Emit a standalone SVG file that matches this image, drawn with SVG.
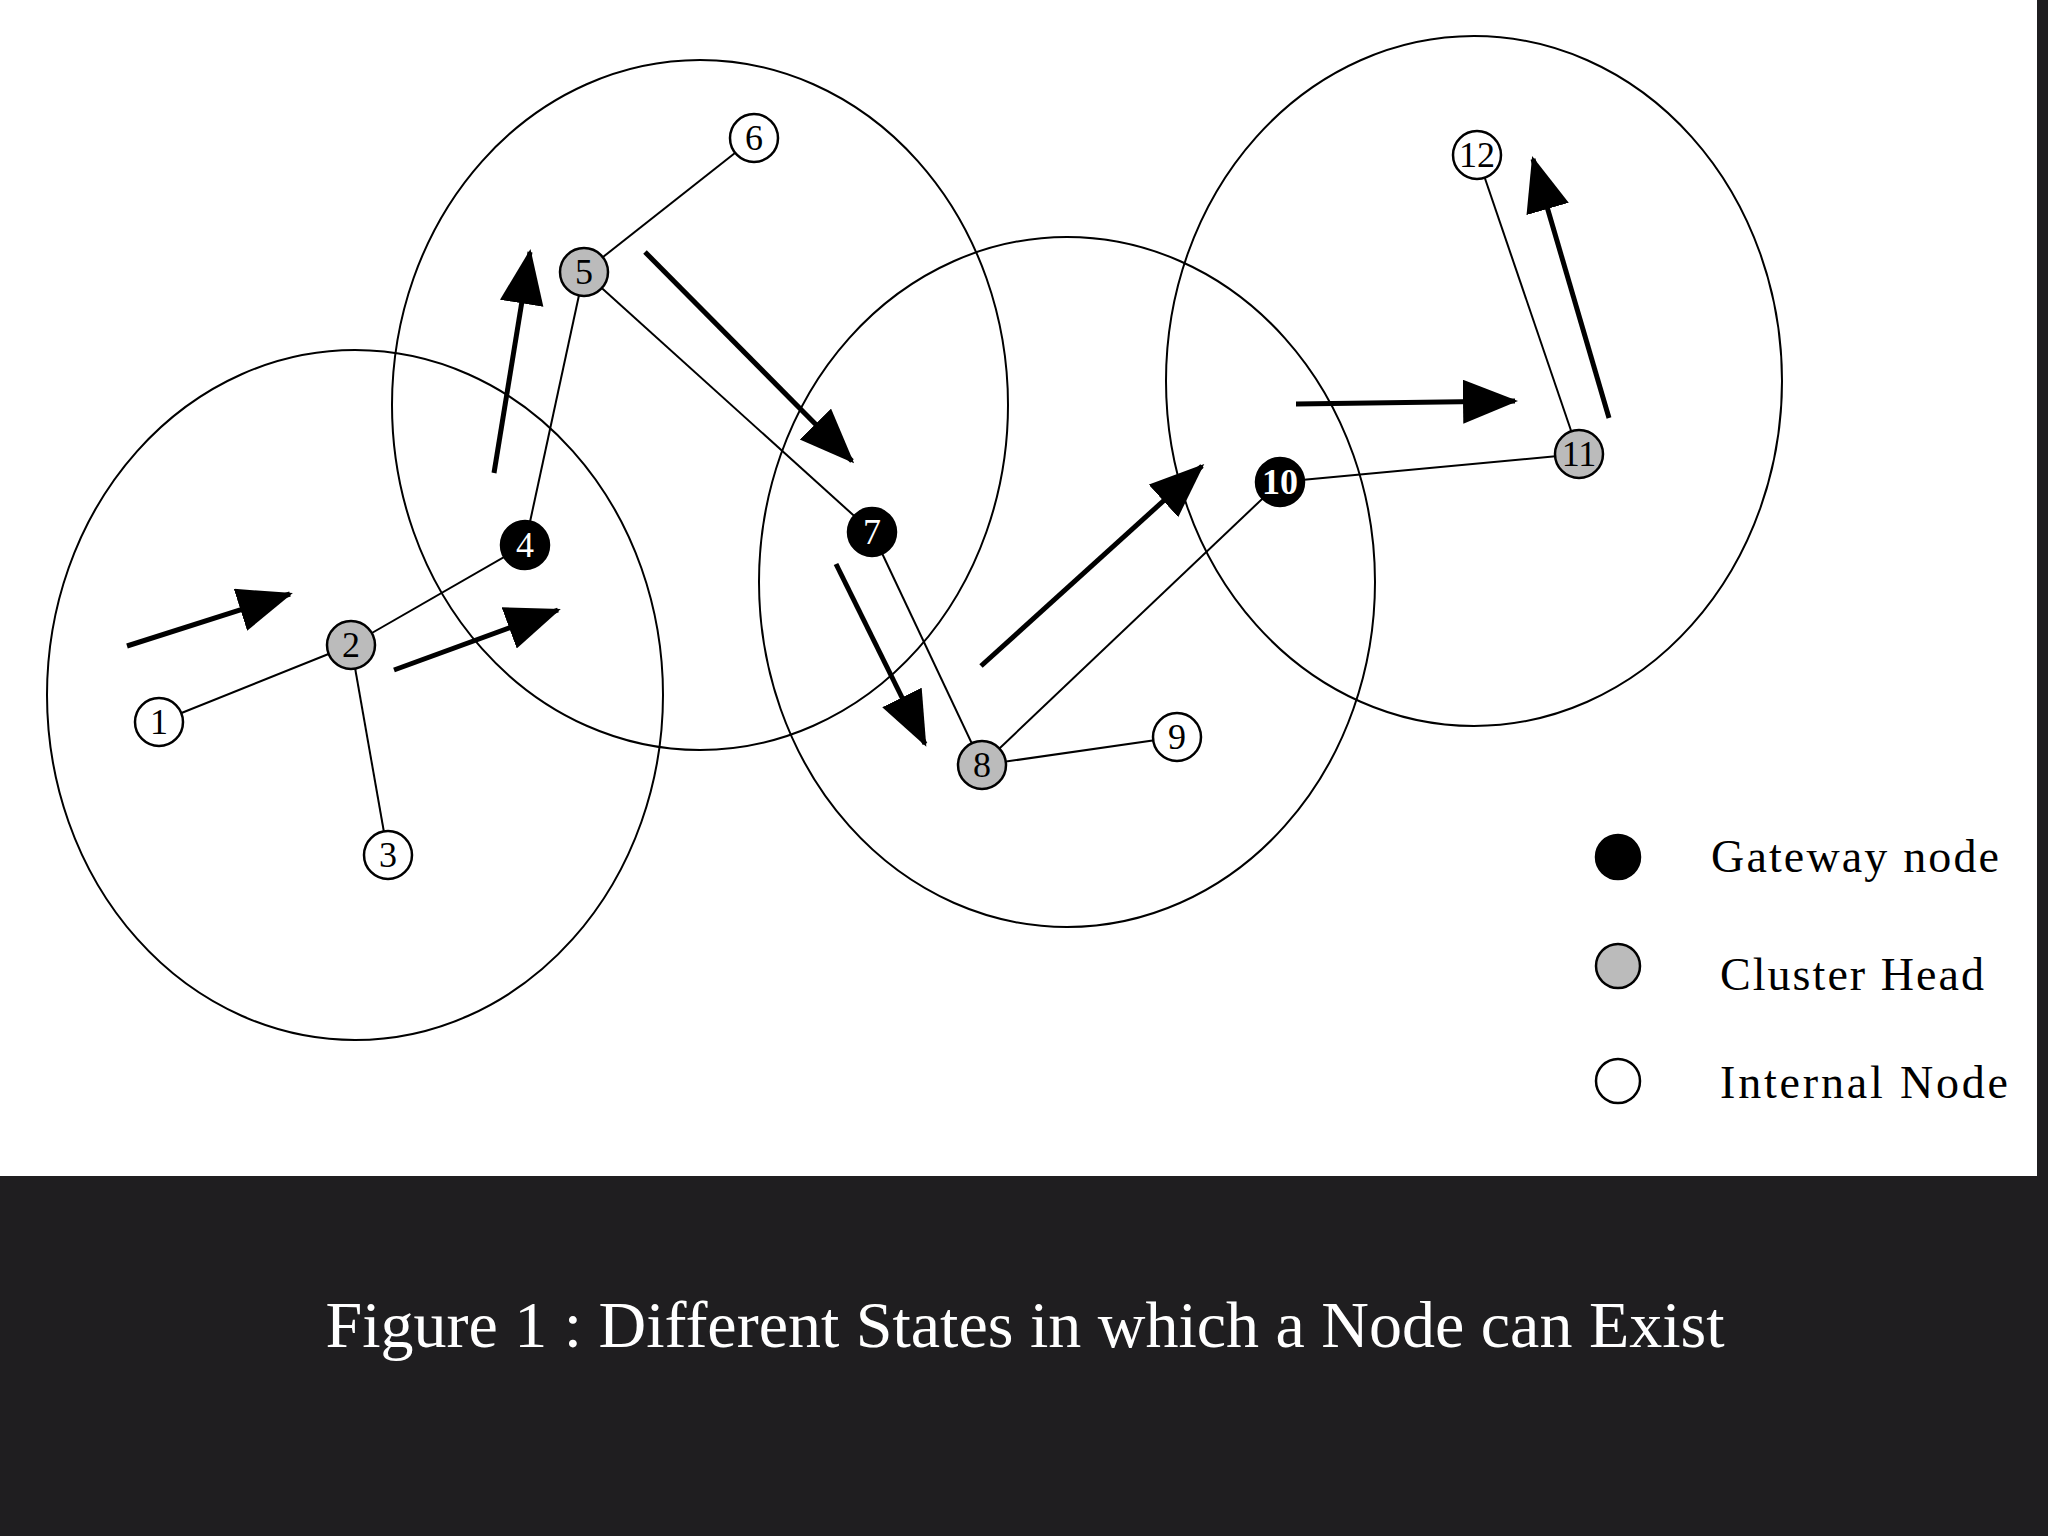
<svg xmlns="http://www.w3.org/2000/svg" width="2048" height="1536" viewBox="0 0 2048 1536">
<style>
.r{fill:none;stroke:#000;stroke-width:2}
.e{stroke:#000;stroke-width:2}
.a{stroke:#000;stroke-width:5;marker-end:url(#ah)}
.n{stroke:#000;stroke-width:2.5}
.t{font-family:"Liberation Serif",serif;font-size:36px;text-anchor:middle;dominant-baseline:central}
.lg{font-family:"Liberation Serif",serif;font-size:46px}
</style>
<defs>
<marker id="ah" markerUnits="userSpaceOnUse" markerWidth="60" markerHeight="50" refX="52" refY="22" orient="auto"><path d="M0,0 L55,22 L0,44 Z" fill="#000"/></marker>
</defs>
<rect width="2048" height="1536" fill="#1f1e20"/>
<rect width="2037" height="1176" fill="#fff"/>
<g id="ranges">
<ellipse class="r" cx="355" cy="695" rx="308" ry="345"/>
<ellipse class="r" cx="700" cy="405" rx="308" ry="345"/>
<ellipse class="r" cx="1067" cy="582" rx="308" ry="345"/>
<ellipse class="r" cx="1474" cy="381" rx="308" ry="345"/>
</g>
<g id="connectors">
<line class="e" x1="159" y1="722" x2="351" y2="645"/>
<line class="e" x1="351" y1="645" x2="388" y2="855"/>
<line class="e" x1="351" y1="645" x2="525" y2="545"/>
<line class="e" x1="525" y1="545" x2="584" y2="272"/>
<line class="e" x1="584" y1="272" x2="754" y2="138"/>
<line class="e" x1="584" y1="272" x2="872" y2="532"/>
<line class="e" x1="872" y1="532" x2="982" y2="765"/>
<line class="e" x1="982" y1="765" x2="1177" y2="737"/>
<line class="e" x1="982" y1="765" x2="1280" y2="482"/>
<line class="e" x1="1280" y1="482" x2="1579" y2="454"/>
<line class="e" x1="1579" y1="454" x2="1477" y2="155"/>
<line class="a" x1="127" y1="646" x2="290" y2="594"/>
<line class="a" x1="394" y1="670" x2="558" y2="610"/>
<line class="a" x1="494" y1="473" x2="530" y2="252"/>
<line class="a" x1="645" y1="252" x2="852" y2="461"/>
<line class="a" x1="836" y1="564" x2="925" y2="744"/>
<line class="a" x1="981" y1="666" x2="1202" y2="466"/>
<line class="a" x1="1296" y1="404" x2="1515" y2="401"/>
<line class="a" x1="1609" y1="418" x2="1533" y2="159"/>
</g>
<g id="n1"><circle class="n" cx="159" cy="722" r="24" fill="#fff"/><text class="t" x="159" y="722">1</text></g>
<g id="n2"><circle class="n" cx="351" cy="645" r="24" fill="#bbb"/><text class="t" x="351" y="645">2</text></g>
<g id="n3"><circle class="n" cx="388" cy="855" r="24" fill="#fff"/><text class="t" x="388" y="855">3</text></g>
<g id="n4"><circle class="n" cx="525" cy="545" r="24" fill="#000"/><text class="t" x="525" y="545" fill="#fff">4</text></g>
<g id="n5"><circle class="n" cx="584" cy="272" r="24" fill="#bbb"/><text class="t" x="584" y="272">5</text></g>
<g id="n6"><circle class="n" cx="754" cy="138" r="24" fill="#fff"/><text class="t" x="754" y="138">6</text></g>
<g id="n7"><circle class="n" cx="872" cy="532" r="24" fill="#000"/><text class="t" x="872" y="532" fill="#fff">7</text></g>
<g id="n8"><circle class="n" cx="982" cy="765" r="24" fill="#bbb"/><text class="t" x="982" y="765">8</text></g>
<g id="n9"><circle class="n" cx="1177" cy="737" r="24" fill="#fff"/><text class="t" x="1177" y="737">9</text></g>
<g id="n10"><circle class="n" cx="1280" cy="482" r="24" fill="#000"/><text class="t" x="1280" y="482" fill="#fff" font-size="28" font-weight="bold">10</text></g>
<g id="n11"><circle class="n" cx="1579" cy="454" r="24" fill="#bbb"/><text class="t" x="1579" y="454" font-size="30">11</text></g>
<g id="n12"><circle class="n" cx="1477" cy="155" r="24" fill="#fff"/><text class="t" x="1477" y="155" font-size="30">12</text></g>
<g id="legend">
<circle class="n" cx="1618" cy="857" r="22" fill="#000"/>
<circle class="n" cx="1618" cy="966" r="22" fill="#bbb"/>
<circle class="n" cx="1618" cy="1081" r="22" fill="#fff"/>
<text class="lg" x="1711" y="872" textLength="288">Gateway node</text>
<text class="lg" x="1720" y="990" textLength="264">Cluster Head</text>
<text class="lg" x="1720" y="1098" textLength="288">Internal Node</text>
</g>
<text x="1025" y="1347" fill="#fff" font-family="Liberation Serif,serif" font-size="66" text-anchor="middle">Figure 1 : Different States in which a Node can Exist</text>
</svg>
